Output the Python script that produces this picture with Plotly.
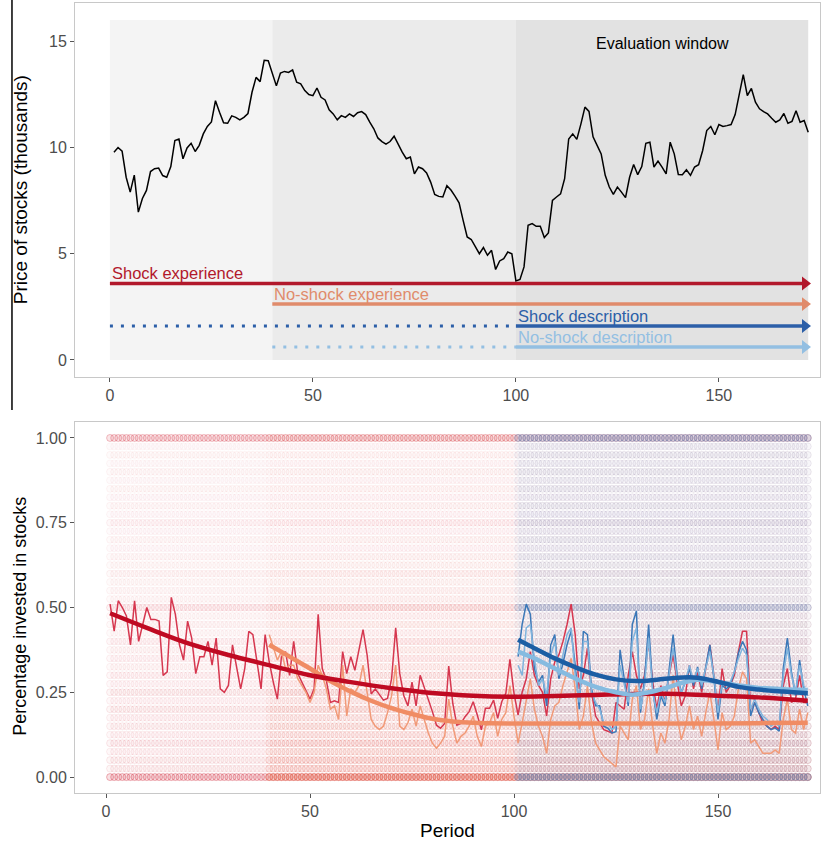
import plotly.graph_objects as go

# ---------------- data ----------------
periods = list(range(1, 173))

price = [9.78, 10.0, 9.83, 8.6, 7.9, 8.7, 6.96, 7.6, 7.98, 8.87,
         9.0, 9.03, 8.68, 8.6, 9.1, 10.33, 10.4, 9.47, 9.98, 10.2,
         9.81, 10.1, 10.64, 10.99, 11.2, 12.2, 11.66, 11.16, 11.14, 11.49,
         11.42, 11.3, 11.42, 11.6, 12.6, 13.3, 13.1, 14.1, 14.08, 13.46,
         12.9, 13.5, 13.58, 13.53, 13.65, 13.07, 13.0, 12.68, 12.49, 12.44,
         12.8, 12.36, 12.24, 11.77, 11.58, 11.3, 11.5, 11.42, 11.58, 11.46,
         11.64, 11.69, 11.55, 11.19, 10.88, 10.45, 10.28, 10.16, 10.28, 10.53,
         10.13, 9.78, 9.47, 9.55, 8.76, 9.08, 9.0, 8.8, 8.37, 7.79,
         7.7, 7.67, 8.2, 8.0, 7.71, 7.4, 6.57, 5.79, 5.67, 5.35,
         5.0, 5.29, 4.93, 5.16, 4.26, 4.66, 4.77, 5.08, 5.0, 3.72,
         3.79, 4.38, 6.34, 6.42, 6.29, 6.29, 5.76, 5.98, 7.51, 7.67,
         7.82, 8.53, 10.4, 10.64, 10.38, 11.1, 11.9, 11.7, 10.5, 10.1,
         9.7, 8.69, 8.14, 7.79, 8.14, 7.9, 7.64, 8.6, 9.2, 8.72,
         9.1, 10.2, 10.25, 9.08, 9.36, 9.08, 8.76, 10.25, 9.7, 8.73,
         8.72, 8.95, 8.69, 9.08, 9.19, 9.86, 10.8, 10.99, 10.6, 11.08,
         10.99, 11.03, 11.08, 11.55, 12.44, 13.43, 12.44, 12.78, 12.13, 11.82,
         11.69, 11.58, 11.38, 11.19, 11.3, 11.6, 11.14, 11.23, 11.73, 11.19,
         11.27, 10.72]

# phases of the experiment (top panel background)
phase_start = [0, 40, 100]
phase_end = [40, 100, 172]
phase_top = 16

# conditions (arrows)
cond_names = ["Shock experience", "No-shock experience", "Shock description", "No-shock description"]
cond_first = [0, 40, 0, 40]          # first period shown
cond_invest = [0, 40, 100, 100]      # first period of investing
cond_last = [172, 172, 172, 172]

# mean investment per period (raw lines)
shock_exp_raw = [0.51, 0.43, 0.52, 0.50, 0.475, 0.39, 0.52, 0.40, 0.45, 0.50,
                 0.465, 0.465, 0.46, 0.30, 0.31, 0.53, 0.48, 0.39, 0.345, 0.46,
                 0.41, 0.305, 0.355, 0.355, 0.40, 0.33, 0.41, 0.26, 0.25, 0.27,
                 0.39, 0.32, 0.26, 0.32, 0.43, 0.42, 0.345, 0.26, 0.42, 0.34,
                 0.28, 0.23, 0.355, 0.37, 0.30, 0.40, 0.305, 0.28, 0.26, 0.23,
                 0.26, 0.48, 0.32, 0.285, 0.22, 0.225, 0.22, 0.37, 0.305, 0.355,
                 0.315, 0.37, 0.435, 0.36, 0.245, 0.26, 0.245, 0.227, 0.232, 0.29,
                 0.44, 0.305, 0.24, 0.21, 0.28, 0.21, 0.30, 0.265, 0.227, 0.193,
                 0.153, 0.144, 0.158, 0.327, 0.217, 0.153, 0.158, 0.178, 0.193, 0.222,
                 0.183, 0.139, 0.203, 0.203, 0.227, 0.173, 0.222, 0.247, 0.347, 0.247,
                 0.183, 0.25, 0.29, 0.37, 0.30, 0.27, 0.25, 0.18, 0.29, 0.34,
                 0.36, 0.40, 0.45, 0.51, 0.42, 0.26, 0.30, 0.38, 0.25, 0.18,
                 0.16, 0.14, 0.135, 0.13, 0.22, 0.21, 0.20, 0.30, 0.37, 0.30,
                 0.26, 0.30, 0.40, 0.28, 0.20, 0.27, 0.22, 0.30, 0.36, 0.28,
                 0.21, 0.24, 0.33, 0.26, 0.31, 0.25, 0.32, 0.39, 0.30, 0.19,
                 0.32, 0.25, 0.27, 0.30, 0.37, 0.43, 0.43, 0.20, 0.22, 0.19,
                 0.16, 0.15, 0.14, 0.15, 0.14, 0.27, 0.32, 0.22, 0.23, 0.30,
                 0.22, 0.22]

noshock_exp_periods = list(range(40, 173))
noshock_exp_raw = [0.42, 0.38, 0.345, 0.37, 0.32, 0.33, 0.33, 0.29, 0.27, 0.25,
                   0.22, 0.25, 0.33, 0.30, 0.26, 0.20, 0.21, 0.17, 0.33, 0.18,
                   0.26, 0.25, 0.27, 0.33, 0.25, 0.17, 0.15, 0.14, 0.15, 0.19,
                   0.24, 0.33, 0.15, 0.14, 0.16, 0.20, 0.15, 0.21, 0.17, 0.13,
                   0.10, 0.085, 0.10, 0.12, 0.23, 0.15, 0.10, 0.12, 0.13, 0.15,
                   0.18, 0.12, 0.09, 0.15, 0.16, 0.19, 0.12, 0.17, 0.19, 0.27,
                   0.18, 0.10, 0.16, 0.22, 0.29, 0.20, 0.15, 0.12, 0.07, 0.17,
                   0.21, 0.22, 0.27, 0.31, 0.35, 0.26, 0.14, 0.18, 0.27, 0.16,
                   0.10, 0.08, 0.06, 0.05, 0.04, 0.03, 0.15, 0.13, 0.11, 0.23,
                   0.27, 0.14, 0.17, 0.26, 0.15, 0.07, 0.13, 0.10, 0.17, 0.30,
                   0.18, 0.11, 0.15, 0.21, 0.14, 0.18, 0.12, 0.19, 0.25, 0.17,
                   0.08, 0.19, 0.14, 0.15, 0.18, 0.26, 0.31, 0.29, 0.10, 0.11,
                   0.09, 0.07, 0.07, 0.07, 0.08, 0.07, 0.17, 0.23, 0.14, 0.13,
                   0.20, 0.14, 0.19]

desc_periods = list(range(101, 173))
shock_desc_raw = [0.355, 0.45, 0.51, 0.48, 0.32, 0.28, 0.30, 0.21, 0.39, 0.42,
                  0.29, 0.335, 0.39, 0.43, 0.33, 0.20, 0.43, 0.42, 0.26, 0.21,
                  0.21, 0.15, 0.144, 0.13, 0.134, 0.375, 0.29, 0.21, 0.45, 0.49,
                  0.19, 0.29, 0.45, 0.26, 0.17, 0.24, 0.21, 0.31, 0.42, 0.30,
                  0.25, 0.28, 0.32, 0.27, 0.325, 0.26, 0.325, 0.39, 0.29, 0.17,
                  0.27, 0.26, 0.27, 0.31, 0.365, 0.40, 0.375, 0.18, 0.22, 0.19,
                  0.17, 0.15, 0.14, 0.145, 0.135, 0.32, 0.41, 0.31, 0.24, 0.345,
                  0.26, 0.21]
noshock_desc_raw = [0.33, 0.30, 0.44, 0.45, 0.35, 0.27, 0.29, 0.24, 0.36, 0.40,
                    0.30, 0.36, 0.42, 0.44, 0.30, 0.22, 0.40, 0.40, 0.25, 0.22,
                    0.20, 0.16, 0.16, 0.14, 0.15, 0.33, 0.27, 0.22, 0.40, 0.44,
                    0.20, 0.27, 0.41, 0.25, 0.19, 0.25, 0.22, 0.30, 0.38, 0.29,
                    0.25, 0.28, 0.33, 0.28, 0.32, 0.27, 0.32, 0.37, 0.30, 0.19,
                    0.28, 0.27, 0.28, 0.31, 0.35, 0.38, 0.36, 0.20, 0.23, 0.20,
                    0.18, 0.17, 0.15, 0.16, 0.15, 0.30, 0.38, 0.30, 0.25, 0.33,
                    0.27, 0.24]

# smoothed trends (read at knots)
shock_exp_fit_x = [1, 10, 20, 30, 40, 50, 60, 70, 80, 90, 100, 110, 120, 130, 140, 150, 160, 172]
shock_exp_fit_y = [0.483, 0.44, 0.395, 0.36, 0.33, 0.30, 0.28, 0.262, 0.248, 0.24, 0.237, 0.239, 0.242, 0.245, 0.245, 0.24, 0.235, 0.225]
noshock_exp_fit_x = [40, 45, 50, 55, 60, 65, 70, 75, 80, 85, 90, 100, 120, 140, 160, 172]
noshock_exp_fit_y = [0.39, 0.355, 0.32, 0.283, 0.252, 0.225, 0.203, 0.186, 0.172, 0.164, 0.16, 0.158, 0.158, 0.158, 0.159, 0.16]
shock_desc_fit_x = [101, 105, 110, 115, 120, 125, 130, 135, 140, 145, 150, 155, 160, 166, 172]
shock_desc_fit_y = [0.405, 0.38, 0.35, 0.324, 0.302, 0.288, 0.283, 0.287, 0.293, 0.293, 0.281, 0.266, 0.258, 0.252, 0.247]
noshock_desc_fit_x = [101, 105, 110, 115, 120, 125, 129, 133, 137, 141, 145, 150, 155, 160, 166, 172]
noshock_desc_fit_y = [0.37, 0.35, 0.32, 0.291, 0.266, 0.25, 0.243, 0.25, 0.262, 0.277, 0.287, 0.28, 0.27, 0.263, 0.259, 0.257]

# individual responses, summarised as share levels and how often each level is chosen (alpha)
levels = [0.000, 0.025, 0.050, 0.075, 0.100, 0.125, 0.150, 0.175, 0.200, 0.225,
          0.250, 0.275, 0.300, 0.325, 0.350, 0.375, 0.400, 0.425, 0.450, 0.475,
          0.500, 0.525, 0.550, 0.575, 0.600, 0.625, 0.650, 0.675, 0.700, 0.725,
          0.750, 0.775, 0.800, 0.825, 0.850, 0.875, 0.900, 0.925, 0.950, 0.975, 1.000]
freq_shock_exp = [0.40, 0.11, 0.11, 0.09, 0.12, 0.085, 0.095, 0.085, 0.11, 0.08,
                  0.11, 0.075, 0.09, 0.07, 0.08, 0.07, 0.085, 0.06, 0.07, 0.06,
                  0.13, 0.06, 0.06, 0.055, 0.07, 0.055, 0.06, 0.05, 0.06, 0.05,
                  0.075, 0.05, 0.06, 0.05, 0.055, 0.045, 0.06, 0.045, 0.055, 0.045, 0.32]
freq_noshock_exp = [0.42, 0.15, 0.15, 0.11, 0.12, 0.085, 0.09, 0.07, 0.085, 0.06,
                    0.075, 0.05, 0.06, 0.045, 0.045, 0.035, 0.045, 0.03, 0.035, 0.03,
                    0.06, 0.025, 0.025, 0.022, 0.028, 0.022, 0.022, 0.02, 0.022, 0.02,
                    0.03, 0.02, 0.022, 0.02, 0.02, 0.02, 0.022, 0.02, 0.02, 0.02, 0.07]
freq_desc = [0.40, 0.09, 0.09, 0.075, 0.09, 0.07, 0.08, 0.07, 0.085, 0.07,
             0.09, 0.07, 0.08, 0.07, 0.075, 0.07, 0.08, 0.07, 0.075, 0.07,
             0.26, 0.08, 0.08, 0.075, 0.09, 0.08, 0.085, 0.08, 0.09, 0.08,
             0.12, 0.085, 0.095, 0.08, 0.09, 0.08, 0.095, 0.08, 0.09, 0.08, 0.32]

# ---------------- styles ----------------
C_SE, C_NE, C_SD, C_ND = "#b2182b", "#e08b6b", "#2c5fa8", "#93bfe2"
FONT = "Liberation Sans, Arial, sans-serif"
arrow_y = [3.6, 2.63, 1.6, 0.61]
label_dy = 0.48

fig = go.Figure()

# ---------- top panel ----------
phase_fill = ["#f4f4f4", "#ebebeb", "#e2e2e2"]
for s, e, c in zip(phase_start, phase_end, phase_fill):
    fig.add_shape(type="rect", xref="x", yref="y", x0=s, x1=e, y0=0, y1=phase_top,
                  fillcolor=c, line=dict(width=0), layer="below")

fig.add_trace(go.Scatter(x=periods, y=price, mode="lines",
                         line=dict(color="black", width=1.5), xaxis="x", yaxis="y",
                         hoverinfo="skip"))

arrow_cols = [C_SE, C_NE, C_SD, C_ND]
for name, f, inv, last, yy, col in zip(cond_names, cond_first, cond_invest, cond_last, arrow_y, arrow_cols):
    if inv > f:
        fig.add_trace(go.Scatter(x=[f, inv], y=[yy, yy], mode="lines",
                                 line=dict(color=col, width=3, dash="3px,8px"),
                                 xaxis="x", yaxis="y", hoverinfo="skip"))
    fig.add_trace(go.Scatter(x=[inv, last - 1], y=[yy, yy], mode="lines",
                             line=dict(color=col, width=3.5), xaxis="x", yaxis="y",
                             hoverinfo="skip"))
    fig.add_trace(go.Scatter(x=[last - 0.8], y=[yy], mode="markers",
                             marker=dict(symbol="triangle-right", size=12, color=col),
                             xaxis="x", yaxis="y", hoverinfo="skip"))
    fig.add_annotation(x=inv, y=yy + label_dy, xref="x", yref="y", text=name,
                       showarrow=False, xanchor="left", yanchor="middle",
                       font=dict(family=FONT, size=16.5, color=col))

fig.add_annotation(x=136, y=14.9, xref="x", yref="y", text="Evaluation window",
                   showarrow=False, font=dict(family=FONT, size=16, color="black"))

# ---------- bottom panel ----------
def cloud(px, freq, rgb, size=7, fill=0.4):
    xs, ys, fills, edges = [], [], [], []
    for p in px:
        for lv, a in zip(levels, freq):
            xs.append(p)
            ys.append(lv)
            fills.append(f"rgba({rgb},{a*fill:.4f})")
            edges.append(f"rgba({rgb},{a:.4f})")
    return go.Scatter(x=xs, y=ys, mode="markers", xaxis="x2", yaxis="y2",
                      marker=dict(size=size, color=fills, line=dict(width=1, color=edges)),
                      hoverinfo="skip")

fig.add_trace(cloud(periods, freq_shock_exp, "214,64,80"))
fig.add_trace(cloud(noshock_exp_periods, freq_noshock_exp, "232,110,80"))
fig.add_trace(cloud(desc_periods, freq_desc, "80,145,205", fill=0.5))

raw = [(periods, shock_exp_raw, "#d6374f"),
       (noshock_exp_periods, noshock_exp_raw, "#f19a78"),
       (desc_periods, shock_desc_raw, "#3b78b8"),
       (desc_periods, noshock_desc_raw, "#80b4dd")]
for xs, ys, c in raw:
    fig.add_trace(go.Scatter(x=xs, y=ys, mode="lines", line=dict(color=c, width=1.5),
                             xaxis="x2", yaxis="y2", hoverinfo="skip"))

fits = [(noshock_exp_fit_x, noshock_exp_fit_y, "#f08c64"),
        (shock_exp_fit_x, shock_exp_fit_y, "#bf0a22"),
        (noshock_desc_fit_x, noshock_desc_fit_y, "#86bbe0"),
        (shock_desc_fit_x, shock_desc_fit_y, "#1c5ea4")]
for xs, ys, c in fits:
    fig.add_trace(go.Scatter(x=xs, y=ys, mode="lines", line=dict(color=c, width=4.5, shape="spline"),
                             xaxis="x2", yaxis="y2", hoverinfo="skip"))

# axis titles
fig.add_annotation(x=-0.0738, y=0.763, xref="paper", yref="paper", text="Price of stocks (thousands)",
                   textangle=-90, showarrow=False, xanchor="center", yanchor="middle",
                   font=dict(family=FONT, size=19, color="black"))
fig.add_annotation(x=-0.0738, y=0.223, xref="paper", yref="paper", text="Percentage invested in stocks",
                   textangle=-90, showarrow=False, xanchor="center", yanchor="middle",
                   font=dict(family=FONT, size=18, color="black"))
fig.add_annotation(x=0.5, y=-0.048, xref="paper", yref="paper", text="Period",
                   showarrow=False, xanchor="center", yanchor="middle",
                   font=dict(family=FONT, size=19, color="black"))

# black border line on the left of the top panel
fig.add_shape(type="line", xref="paper", yref="paper", x0=-0.0846, x1=-0.0846, y0=0.4848, y1=1.01,
              line=dict(color="black", width=1.5))

axis_common = dict(showgrid=False, zeroline=False, showline=True, linecolor="#c8c8c8", linewidth=1,
                   mirror=True, ticks="outside", ticklen=4, tickcolor="#555555",
                   tickfont=dict(family=FONT, size=16, color="#4d4d4d"))

fig.update_layout(
    width=833, height=842, showlegend=False,
    margin=dict(l=75, r=13, t=3, b=49),
    paper_bgcolor="white", plot_bgcolor="white",
    xaxis=dict(domain=[0, 1], anchor="y", range=[-8.6, 174.9], tickvals=[0, 50, 100, 150], **axis_common),
    yaxis=dict(domain=[0.5266, 1.0], anchor="x", range=[-0.8, 16.8], tickvals=[0, 5, 10, 15], **axis_common),
    xaxis2=dict(domain=[0, 1], anchor="y2", range=[-7.6, 175.0], tickvals=[0, 50, 100, 150], **axis_common),
    yaxis2=dict(domain=[0, 0.4696], anchor="x2", range=[-0.047, 1.047],
                tickvals=[0, 0.25, 0.5, 0.75, 1.0], ticktext=["0.00", "0.25", "0.50", "0.75", "1.00"],
                **axis_common),
)

fig.write_html("out.html")
